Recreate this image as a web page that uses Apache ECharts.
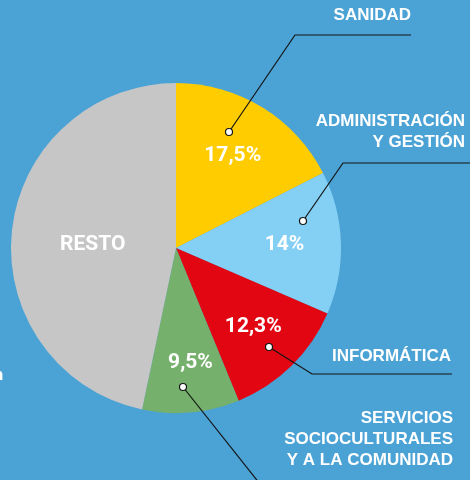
<!DOCTYPE html>
<html>
<head>
<meta charset="utf-8">
<script src="https://cdn.jsdelivr.net/npm/echarts@6/dist/echarts.min.js"></script>
<style>
  html, body { margin: 0; padding: 0; background: #4aa2d5; }
  #chart { width: 470px; height: 480px; }
</style>
</head>
<body>
<div id="chart"></div>
<script>
// datos
const sectores = ['SANIDAD', 'ADMINISTRACIÓN\nY GESTIÓN', 'INFORMÁTICA', 'SERVICIOS\nSOCIOCULTURALES\nY A LA COMUNIDAD', 'RESTO'];
const porcentajes = [17.5, 14, 12.3, 9.5, 46.7];
const etiquetasInternas = ['17,5%', '14%', '12,3%', '9,5%', 'RESTO'];

// estilo
const colores = ['#ffcc00', '#84cff4', '#e20613', '#76b06d', '#c6c6c6'];
const centro = [176, 248];
const radio = 165;
const empuje = [0.27, 0.27, 0.29, 0.35, -0.02];

// anotaciones: punto dentro del sector, codo y final de la linea, esquina del texto
const anotaciones = [
  { punto: [229, 132], codo: [295, 35], fin: [411, 35], texto: [411, 26] },
  { punto: [303, 221], codo: [343, 163], fin: [472, 163], texto: [465, 153] },
  { punto: [269, 347], codo: [312, 374], fin: [452, 374], texto: [451, 367] },
  { punto: [183, 387], codo: [260, 484], fin: [260, 484], texto: [453, 471] }
];

const chart = echarts.init(document.getElementById('chart'), null, { renderer: 'canvas' });

const datosSectores = sectores.map((s, i) => ({
  name: s,
  value: porcentajes[i],
  itemStyle: { color: colores[i] }
}));

const datosAnotados = sectores.map((s, i) => ({
  name: s,
  value: porcentajes[i],
  label: { show: i < anotaciones.length },
  labelLine: { show: i < anotaciones.length }
}));

chart.setOption({
  backgroundColor: '#4aa2d5',
  animation: false,
  series: [{
    type: 'pie',
    center: centro,
    radius: radio,
    startAngle: 90,
    clockwise: true,
    silent: true,
    data: datosSectores,
    label: {
      show: true,
      position: 'inside',
      formatter: p => etiquetasInternas[p.dataIndex],
      color: '#fff',
      fontFamily: 'Roboto',
      fontWeight: 'bold',
      fontSize: 21
    },
    labelLine: { show: false },
    labelLayout: function (params) {
      const r = params.labelRect;
      const vx = r.x + r.width / 2 - centro[0];
      const vy = r.y + r.height / 2 - centro[1];
      const k = empuje[params.dataIndex];
      return { dx: vx * k + (params.dataIndex === 3 ? 4 : 0), dy: vy * k + (params.dataIndex === 4 ? 5 : 0) };
    }
  }, {
    type: 'pie',
    center: centro,
    radius: radio,
    startAngle: 90,
    clockwise: true,
    silent: true,
    z: 3,
    data: datosAnotados,
    itemStyle: { color: 'rgba(0,0,0,0)' },
    label: {
      position: 'outside',
      formatter: '{b}',
      overflow: 'none',
      width: 300,
      color: '#fff',
      fontFamily: 'Liberation Sans',
      fontWeight: 'bold',
      fontSize: 17,
      lineHeight: 21
    },
    labelLine: {
      lineStyle: { color: '#141414', width: 1.2 }
    },
    labelLayout: function (params) {
      const a = anotaciones[params.dataIndex];
      if (!a) return {};
      return {
        x: a.texto[0],
        y: a.texto[1],
        align: 'right',
        verticalAlign: 'bottom',
        labelLinePoints: [a.punto.slice(), a.codo.slice(), a.fin.slice()]
      };
    }
  }],
  graphic: anotaciones.map(a => ({
    type: 'circle',
    z: 100,
    shape: { cx: a.punto[0], cy: a.punto[1], r: 3.5 },
    style: { fill: '#fff', stroke: '#141414', lineWidth: 1.2 }
  })).concat([{
    type: 'text',
    x: -7,
    y: 367,
    style: { text: 'n', fill: '#fff', font: 'bold 17px "Liberation Sans"' }
  }])
});
</script>
</body>
</html>
